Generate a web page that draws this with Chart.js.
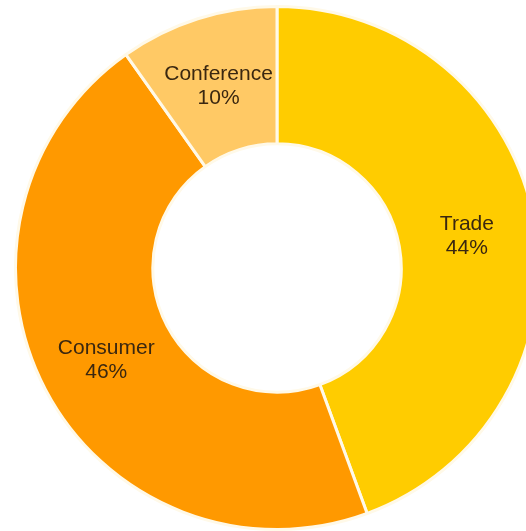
<!DOCTYPE html>
<html>
<head>
<meta charset="utf-8">
<script src="https://cdn.jsdelivr.net/npm/chart.js@4/dist/chart.umd.min.js"></script>
<style>
  html, body { margin: 0; padding: 0; background: #fff; overflow: hidden; width: 526px; height: 531px; }
  #wrap { position: absolute; left: 14px; top: 5px; width: 526px; height: 526px; }
</style>
</head>
<body>
<div id="wrap"><canvas id="chart" width="526" height="526"></canvas></div>
<script>
const categories = ["Trade", "Consumer", "Conference"];
const shares = [44.4, 45.8, 9.8];
const sliceColors = ["#FFCC00", "#FF9900", "#FFC965"];

// draw "name / pct%" at the middle of each slice
const sliceLabels = {
  id: "sliceLabels",
  afterDatasetsDraw(chart) {
    const ctx = chart.ctx;
    const meta = chart.getDatasetMeta(0);
    ctx.save();
    ctx.font = "21px 'Liberation Sans', Arial, sans-serif";
    ctx.fillStyle = "#3a2710";
    ctx.textAlign = "center";
    ctx.textBaseline = "middle";
    meta.data.forEach((arc, i) => {
      const p = arc.tooltipPosition();
      ctx.fillText(categories[i], p.x, p.y - 10);
      ctx.fillText(Math.round(shares[i]) + "%", p.x, p.y + 14);
    });
    ctx.restore();
  }
};

new Chart(document.getElementById("chart").getContext("2d"), {
  type: "doughnut",
  data: {
    labels: categories,
    datasets: [{
      data: shares,
      backgroundColor: sliceColors,
      borderColor: "#FFF9E8",
      borderWidth: 3
    }]
  },
  options: {
    responsive: false,
    animation: false,
    cutout: "47.5%",
    plugins: {
      legend: { display: false },
      tooltip: { enabled: false }
    }
  },
  plugins: [sliceLabels]
});
</script>
</body>
</html>
